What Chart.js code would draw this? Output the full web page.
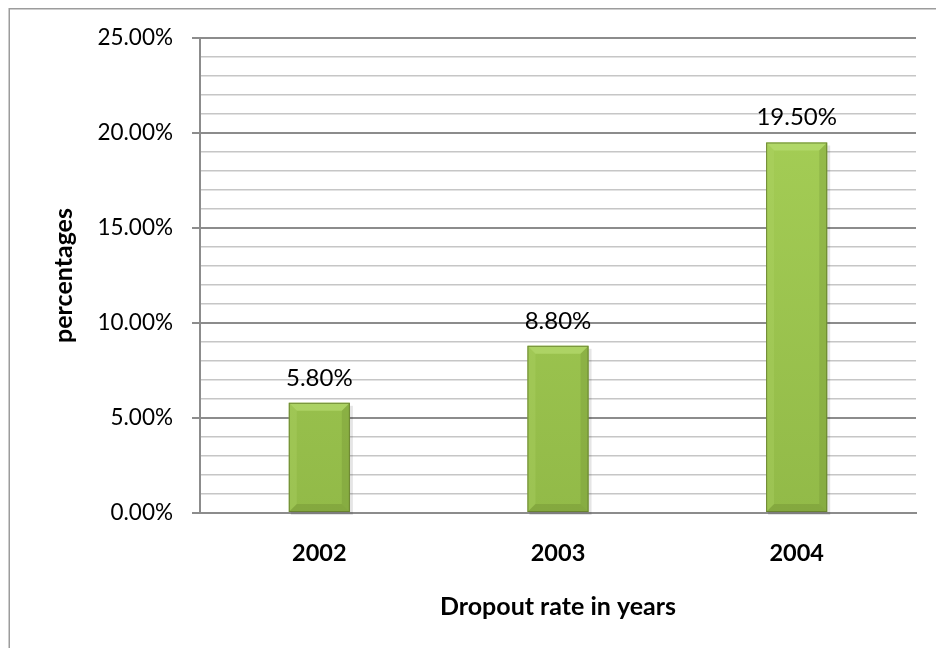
<!DOCTYPE html>
<html>
<head>
<meta charset="utf-8">
<script src="https://cdn.jsdelivr.net/npm/chart.js@4.4.0/dist/chart.umd.min.js"></script>
<style>
  html, body { margin: 0; padding: 0; background: #ffffff; }
  #wrap { width: 936px; height: 648px; position: relative; }
</style>
</head>
<body>
<div id="wrap"><canvas id="c" width="936" height="648"></canvas></div>
<script>
const categories = ['2002', '2003', '2004'];
const dropoutRates = [5.8, 8.8, 19.5];
const yAxisTitle = 'percentages';
const xAxisTitle = 'Dropout rate in years';

const FONT = "Lato, 'Open Sans', sans-serif";

const framePlugin = {
  id: 'frame',
  beforeDraw(chart) {
    const ctx = chart.ctx;
    ctx.save();
    ctx.strokeStyle = '#9c9c9c';
    ctx.lineWidth = 1.5;
    ctx.beginPath();
    ctx.moveTo(9.25, 648);
    ctx.lineTo(9.25, 8.75);
    ctx.lineTo(936, 8.75);
    ctx.stroke();
    ctx.restore();
  }
};

const bevelPlugin = {
  id: 'bevel',
  beforeDatasetsDraw(chart) {
    // soft shadow to the right/bottom of bars
    const ctx = chart.ctx;
    const meta = chart.getDatasetMeta(0);
    ctx.save();
    meta.data.forEach((bar) => {
      const p = bar.getProps(['x', 'y', 'base', 'width'], true);
      const l = p.x - p.width / 2, t = p.y, b = p.base;
      ctx.fillStyle = 'rgba(0,0,0,0.10)';
      ctx.fillRect(l + 2, t + 3, p.width + 1, b - t);
    });
    ctx.restore();
  },
  afterDatasetsDraw(chart) {
    const ctx = chart.ctx;
    const meta = chart.getDatasetMeta(0);
    ctx.save();
    meta.data.forEach((bar, i) => {
      const p = bar.getProps(['x', 'y', 'base', 'width'], true);
      const l = p.x - p.width / 2, r = p.x + p.width / 2, t = p.y, b = p.base;
      const d = Math.min(8, (b - t) / 3);
      // top bevel
      ctx.fillStyle = 'rgba(190,225,120,0.55)';
      ctx.beginPath(); ctx.moveTo(l, t); ctx.lineTo(r, t); ctx.lineTo(r - d, t + d); ctx.lineTo(l + d, t + d); ctx.closePath(); ctx.fill();
      // left bevel
      ctx.fillStyle = 'rgba(180,215,105,0.30)';
      ctx.beginPath(); ctx.moveTo(l, t); ctx.lineTo(l + d, t + d); ctx.lineTo(l + d, b - d); ctx.lineTo(l, b); ctx.closePath(); ctx.fill();
      // right bevel
      ctx.fillStyle = 'rgba(95,125,40,0.22)';
      ctx.beginPath(); ctx.moveTo(r, t); ctx.lineTo(r, b); ctx.lineTo(r - d, b - d); ctx.lineTo(r - d, t + d); ctx.closePath(); ctx.fill();
      // bottom bevel
      ctx.fillStyle = 'rgba(90,115,35,0.25)';
      ctx.beginPath(); ctx.moveTo(l, b); ctx.lineTo(r, b); ctx.lineTo(r - d, b - d); ctx.lineTo(l + d, b - d); ctx.closePath(); ctx.fill();
      // outline
      ctx.strokeStyle = 'rgba(100,125,45,0.85)';
      ctx.lineWidth = 1;
      ctx.strokeRect(l + 0.5, t + 0.5, p.width - 1, b - t - 1);
      // data label
      ctx.fillStyle = '#000';
      ctx.font = "24px " + FONT;
      ctx.textAlign = 'center';
      ctx.textBaseline = 'middle';
      ctx.fillText(dropoutRates[i].toFixed(2) + '%', p.x, t - 25);
    });
    ctx.restore();
  }
};

const ctx = document.getElementById('c').getContext('2d');
new Chart(ctx, {
  type: 'bar',
  data: {
    labels: categories,
    datasets: [{
      data: dropoutRates,
      backgroundColor(context) {
        const chart = context.chart;
        const area = chart.chartArea;
        if (!area) return '#9cc64b';
        const g = chart.ctx.createLinearGradient(0, area.top, 0, area.bottom);
        g.addColorStop(0, '#a8d158');
        g.addColorStop(1, '#92ba48');
        return g;
      },
      borderWidth: 0,
      barPercentage: 0.256,
      categoryPercentage: 1.0
    }]
  },
  options: {
    responsive: false,
    animation: false,
    devicePixelRatio: 1,
    layout: { padding: { left: 0, right: 20, top: 38, bottom: 0 } },
    plugins: {
      legend: { display: false },
      tooltip: { enabled: false }
    },
    scales: {
      x: {
        afterFit(scale) { scale.height = 135; },
        grid: { display: false, drawTicks: false },
        border: { display: true, color: '#8c8c8c', width: 2 },
        ticks: {
          color: '#000',
          padding: 26,
          font: { family: FONT, size: 23.5, weight: 'bold' }
        },
        title: {
          display: true,
          text: xAxisTitle,
          color: '#000',
          font: { family: FONT, size: 25, weight: 'bold' },
          padding: { top: 0, bottom: 26 }
        }
      },
      y: {
        min: 0,
        max: 25,
        afterFit(scale) { scale.width = 200; },
        border: { display: true, color: '#8c8c8c', width: 2 },
        grid: {
          color(c) { return (c.tick && c.tick.value % 5 === 0) ? '#8c8c8c' : '#c6c6c6'; },
          lineWidth(c) { return (c.tick && c.tick.value % 5 === 0) ? 2 : 1.5; },
          tickColor(c) { return (c.tick && c.tick.value % 5 === 0) ? '#8c8c8c' : 'rgba(0,0,0,0)'; },
          tickLength: 8,
          drawTicks: true
        },
        ticks: {
          stepSize: 1,
          autoSkip: false,
          color: '#000',
          padding: 19,
          font: { family: FONT, size: 22.5 },
          callback(v) { return v % 5 === 0 ? v.toFixed(2) + '%' : ''; }
        },
        title: {
          display: true,
          text: yAxisTitle,
          color: '#000',
          font: { family: FONT, size: 25, weight: 'bold' },
          padding: { top: 49, bottom: 0 }
        }
      }
    }
  },
  plugins: [framePlugin, bevelPlugin]
});
</script>
</body>
</html>
